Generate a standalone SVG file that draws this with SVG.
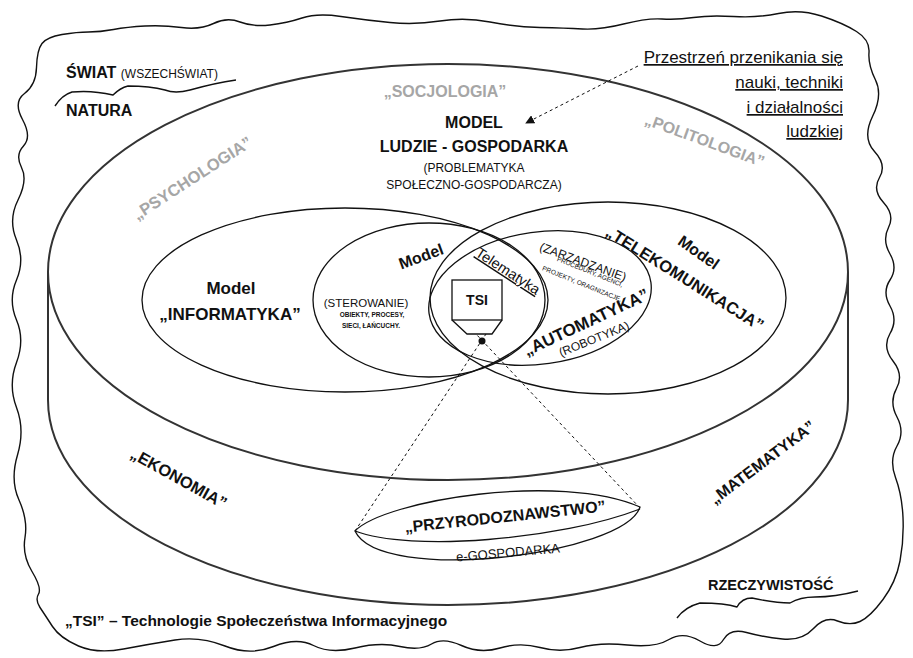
<svg xmlns="http://www.w3.org/2000/svg" width="913" height="658" viewBox="0 0 913 658">
<defs>
<style>
text{font-family:"Liberation Sans",Arial,sans-serif;fill:#111}
.b{font-weight:bold}
.g{fill:#a6a6a6;font-weight:bold}
.m{text-anchor:middle}
.ln{fill:none;stroke:#111;stroke-width:1.3}
.cy{fill:none;stroke:#333;stroke-width:2}
.wv{fill:none;stroke:#111;stroke-width:1.4;stroke-linejoin:round}
.dash{fill:none;stroke:#111;stroke-width:1;stroke-dasharray:3 3}
.u{text-decoration:underline}
</style>
<marker id="ah" viewBox="0 0 10 10" refX="9" refY="5" markerWidth="9" markerHeight="9" orient="auto" markerUnits="userSpaceOnUse"><path d="M0,0 L10,5 L0,10 Z" fill="#111"/></marker>
</defs>
<rect width="913" height="658" fill="#fff"/>

<g id="world">
<path class="wv" d="M42,43.5 Q47,37 62,34.5 Q77,32 88.5,32 Q100,32 113.5,29.5 Q127,27 145,26 Q163,25 181.5,27.5 Q200,30 213.5,23.5 Q227,17 240,22 Q253,27 270,25 Q287,23 302,18 Q317,13 341,16.5 Q365,20 390,22.5 Q415,25 440,21 Q465,17 490,22 Q515,27 540,27.5 Q565,28 582.5,29 Q600,30 623.5,24 Q647,18 662,19 Q677,20 693.5,17.5 Q710,15 733.5,16.5 Q757,18 778.5,13.5 Q800,9 821.5,16 Q843,23 856.5,31.5 Q870,40 869,52.5 Q868,65 875.5,80 Q883,95 872.5,116.5 Q862,138 874.5,151.5 Q887,165 879.5,177.5 Q872,190 883.5,202.5 Q895,215 888.5,227.5 Q882,240 890,254 Q898,268 890,280 Q882,292 890,306 Q898,320 890,333.5 Q882,347 893,361 Q904,375 896.5,388.5 Q889,402 897,417 Q905,432 897,446 Q889,460 895.5,477.5 Q902,495 903,517.5 Q904,540 900,561 Q896,582 883,599.5 Q870,617 860,621.5 Q850,626 837.5,621 Q825,616 813.5,628.5 Q802,641 782.5,639 Q763,637 746.5,632.5 Q730,628 723.5,639.5 Q717,651 700,641 Q683,631 669,639.5 Q655,648 627.5,645 Q600,642 580,647.5 Q560,653 540,647.5 Q520,642 500,648 Q480,654 461.5,645.5 Q443,637 431.5,644 Q420,651 400,646.5 Q380,642 355,648 Q330,654 313.5,645.5 Q297,637 273.5,646.5 Q250,656 225,646 Q200,636 175,640 Q150,644 123.5,649 Q97,654 78.5,646 Q60,638 52.5,626.5 Q45,615 40,607.5 Q35,600 38.5,594 Q42,588 32,571.5 Q22,555 25,537.5 Q28,520 19,500 Q10,480 17.5,455 Q25,430 16.5,407.5 Q8,385 16.5,362.5 Q25,340 16.5,320 Q8,300 16.5,280 Q25,260 16.5,240 Q8,220 18,200 Q28,180 21.5,167.5 Q15,155 23.5,146 Q32,137 22.5,119.5 Q13,102 24.5,93.5 Q36,85 36.5,67.5 Q37,50 42,43.5 Z"/>
<path class="wv" d="M55,106 Q62,95 72,92 Q92,90 113,95 Q120,88 128,86 Q150,86 165,90 Q175,94 190,90 Q215,83 236,80"/>
<path class="wv" d="M677,618 Q685,607 700,603 Q725,603 737,607 Q742,598 752,598 Q775,603 790,603 Q800,597 815,597 Q835,597 858,591"/>
<text x="66" y="78" class="b" font-size="16">ŚWIAT <tspan font-weight="normal" font-size="12">(WSZECHŚWIAT)</tspan></text>
<text x="66" y="116" class="b" font-size="16">NATURA</text>
<text x="708" y="590" class="b" font-size="14.5">RZECZYWISTOŚĆ</text>
<text x="65" y="626" class="b" font-size="15.5">„TSI” – Technologie Społeczeństwa Informacyjnego</text>
</g>

<g id="space-label">
<text x="843" y="63" font-size="17" text-anchor="end" class="u">Przestrzeń przenikania się</text>
<text x="843" y="88" font-size="17" text-anchor="end" class="u">nauki, techniki</text>
<text x="843" y="113" font-size="17" text-anchor="end" class="u">i działalności</text>
<text x="843" y="137" font-size="17" text-anchor="end" class="u">ludzkiej</text>
</g>

<g id="cylinder">
<ellipse class="cy" cx="448" cy="272" rx="400" ry="208"/>
<path class="cy" d="M48,272 L48,400 A400,205 0 0 0 848,400 L848,272"/>
<text x="445" y="97" class="g m" font-size="16">„SOCJOLOGIA”</text>
<text transform="translate(192,178) rotate(-33)" y="6" class="g m" font-size="16.5">„PSYCHOLOGIA”</text>
<text transform="translate(705,140) rotate(20)" y="6" class="g m" font-size="16">„POLITOLOGIA”</text>
<text x="474" y="128" class="b m" font-size="16">MODEL</text>
<text x="474" y="152" class="b m" font-size="16">LUDZIE - GOSPODARKA</text>
<text x="474" y="172" class="m" font-size="12">(PROBLEMATYKA</text>
<text x="474" y="189" class="m" font-size="12">SPOŁECZNO-GOSPODARCZA)</text>
<text transform="translate(179,478) rotate(29)" y="6" class="b m" font-size="16.5">„EKONOMIA”</text>
<text transform="translate(762,462) rotate(-37)" y="6" class="b m" font-size="16">„MATEMATYKA”</text>
</g>

<g id="informatyka">
<ellipse class="ln" cx="345" cy="300" rx="203" ry="92"/>
<text x="231" y="294" class="b m" font-size="17">Model</text>
<text x="230" y="320" class="b m" font-size="17">„INFORMATYKA”</text>
</g>

<g id="telekomunikacja">
<ellipse class="ln" cx="608" cy="298" rx="178" ry="96"/>
<text transform="translate(699,252) rotate(35)" y="6" class="b m" font-size="16">Model</text>
<text transform="translate(685,278) rotate(32)" y="6" class="b m" font-size="16.5">„TELEKOMUNIKACJA”</text>
</g>

<g id="sterowanie">
<ellipse class="ln" cx="429" cy="300" rx="116" ry="77"/>
<text transform="translate(421,256) rotate(-20)" y="6" class="b m" font-size="16">Model</text>
<text x="366" y="307" class="m" font-size="11.5">(STEROWANIE)</text>
<text x="372" y="317" class="b m" font-size="6.5">OBIEKTY, PROCESY,</text>
<text x="371" y="328" class="b m" font-size="6.5">SIECI, ŁAŃCUCHY.</text>
</g>

<g id="automatyka">
<ellipse class="ln" cx="540" cy="298" rx="112" ry="66" transform="rotate(-8 540 298)"/>
<text transform="translate(583,262) rotate(20)" y="4" class="m" font-size="12">(ZARZĄDZANIE)</text>
<text transform="translate(590,272) rotate(22)" y="2" class="m" font-size="6.5">PROCEDURY, AGENCI,</text>
<text transform="translate(582,284) rotate(22)" y="2" class="m" font-size="6.5">PROJEKTY, ORAGNIZACJE,</text>
<text transform="translate(586,322) rotate(-25)" y="6" class="b m" font-size="17">„AUTOMATYKA”</text>
<text transform="translate(594,339) rotate(-22)" y="4" class="m" font-size="12">(ROBOTYKA)</text>
</g>

<g id="telematyka">
<text transform="translate(508,271) rotate(33)" y="5" class="m u" font-size="14.5">Telematyka</text>
</g>

<g id="tsi">
<rect x="452" y="280" width="50" height="40" fill="#fff" stroke="#111" stroke-width="1.3"/>
<path class="ln" d="M452,320 L467,334 L492,334 L502,320"/>
<circle cx="482" cy="341" r="3.5" fill="#111"/>
<text x="477" y="305" class="b m" font-size="14">TSI</text>
</g>

<g id="przyrodoznawstwo">
<path class="ln" d="M355,531 C385,500 560,472 640,507 C625,555 380,585 355,531 Z"/>
<path class="ln" d="M355,531 C410,552 560,540 640,509"/>
<text transform="translate(505,516) rotate(-6)" y="6" class="b m" font-size="16">„PRZYRODOZNAWSTWO”</text>
<text transform="translate(508,553) rotate(-5)" y="4" class="m" font-size="13">e-GOSPODARKA</text>
</g>

<g id="connectors">
<path class="dash" d="M355,531 L486,334"/>
<path class="dash" d="M640,508 L476,334"/>
<path class="dash" d="M638,66 L526,123" marker-end="url(#ah)"/>
</g>
</svg>
